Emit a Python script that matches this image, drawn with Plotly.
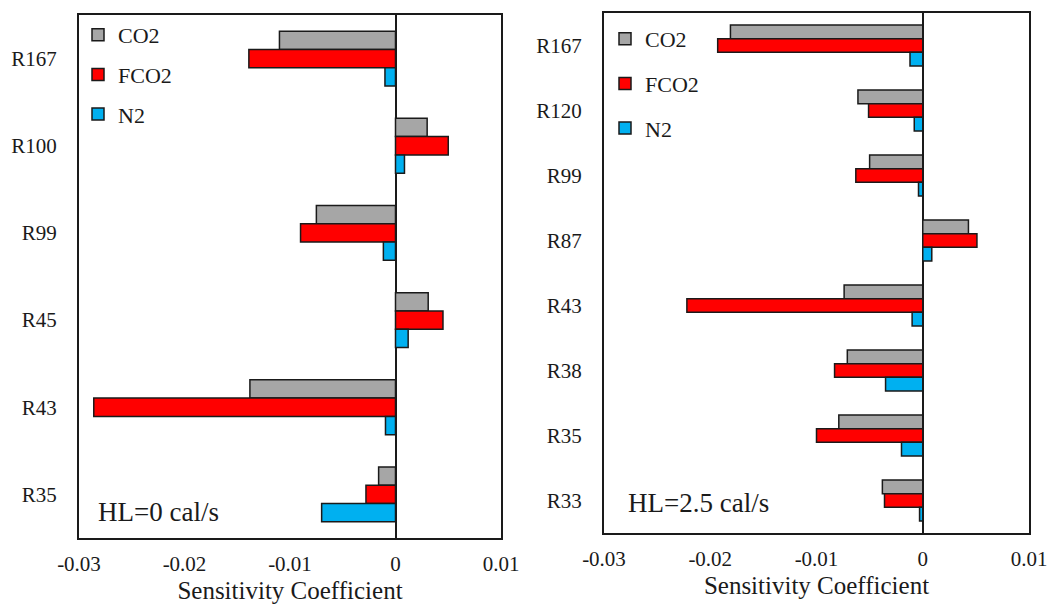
import plotly.graph_objects as go

series_names = ["CO2", "FCO2", "N2"]
series_colors = ["#A6A6A6", "#FF0000", "#00B0F0"]

left_categories = ["R167", "R100", "R99", "R45", "R43", "R35"]
left_co2 = [-0.0110, 0.0030, -0.0075, 0.0031, -0.0138, -0.0016]
left_fco2 = [-0.0139, 0.0050, -0.0090, 0.0045, -0.0286, -0.0028]
left_n2 = [-0.0010, 0.00085, -0.00115, 0.0012, -0.00095, -0.0070]

right_categories = ["R167", "R120", "R99", "R87", "R43", "R38", "R35", "R33"]
right_co2 = [-0.0181, -0.0061, -0.0050, 0.0043, -0.0074, -0.0071, -0.0079, -0.0038]
right_fco2 = [-0.0193, -0.0051, -0.0063, 0.0051, -0.0222, -0.0083, -0.0100, -0.0036]
right_n2 = [-0.0012, -0.0008, -0.0004, 0.00085, -0.0010, -0.0035, -0.0020, -0.0003]

x_tickvals = [-0.03, -0.02, -0.01, 0, 0.01]
x_ticktext = ["-0.03", "-0.02", "-0.01", "0", "0.01"]

FONT = "Liberation Serif"
INK = "#1a1a1a"
W, H = 1048, 605

fig = go.Figure()

for name, col, vals in zip(series_names, series_colors, [left_co2, left_fco2, left_n2]):
    fig.add_trace(go.Bar(
        x=vals, y=left_categories, orientation="h", name=name,
        marker=dict(color=col, line=dict(color=INK, width=1.5)),
        xaxis="x", yaxis="y", legend="legend", legendgroup="L" + name,
    ))

for name, col, vals in zip(series_names, series_colors, [right_co2, right_fco2, right_n2]):
    fig.add_trace(go.Bar(
        x=vals, y=right_categories, orientation="h", name=name,
        marker=dict(color=col, line=dict(color=INK, width=1.5)),
        xaxis="x2", yaxis="y2", legend="legend2", legendgroup="R" + name,
    ))

def px_x(p):
    return p / W

def px_y(p):
    return 1 - p / H

xcommon = dict(
    range=[-0.0300001, 0.0100001], tickvals=x_tickvals, ticktext=x_ticktext,
    showgrid=False, zeroline=True, zerolinecolor=INK, zerolinewidth=1.5,
    showline=True, mirror=True, linecolor=INK, linewidth=2,
    ticks="", ticklabelstandoff=6, automargin=False, ticklabeloverflow="allow",
    tickfont=dict(family=FONT, size=21, color=INK),
    title=dict(text="Sensitivity Coefficient", font=dict(family=FONT, size=25, color=INK), standoff=6),
)
ycommon = dict(
    type="category", showgrid=False, zeroline=False,
    showline=True, mirror=True, linecolor=INK, linewidth=2,
    ticks="", ticklabelstandoff=16, automargin=False,
    tickfont=dict(family=FONT, size=21, color=INK),
)

legcommon = dict(
    font=dict(family=FONT, size=22, color=INK),
    bgcolor="rgba(0,0,0,0)", xanchor="left", yanchor="top",
    traceorder="grouped", itemclick=False,
)

fig.update_layout(
    width=W, height=H,
    margin=dict(l=0, r=0, t=0, b=0, autoexpand=False),
    paper_bgcolor="white", plot_bgcolor="white",
    barmode="group", bargap=0.37, bargroupgap=0,
    xaxis=dict(domain=[px_x(79), px_x(501)], anchor="y", **xcommon),
    yaxis=dict(domain=[px_y(538), px_y(15)], anchor="x",
               range=[len(left_categories) - 0.5, -0.5], **ycommon),
    xaxis2=dict(domain=[px_x(604), px_x(1029)], anchor="y2", **xcommon),
    yaxis2=dict(domain=[px_y(533), px_y(13)], anchor="x2",
                range=[len(right_categories) - 0.5, -0.5], **ycommon),
    legend=dict(x=px_x(78), y=px_y(14), tracegroupgap=8, **legcommon),
    legend2=dict(x=px_x(605), y=px_y(18), tracegroupgap=13, **legcommon),
    showlegend=True,
    annotations=[
        dict(text="HL=0 cal/s", xref="paper", yref="paper", x=px_x(96), y=px_y(512),
             xanchor="left", yanchor="middle", showarrow=False,
             font=dict(family=FONT, size=27, color=INK)),
        dict(text="HL=2.5 cal/s", xref="paper", yref="paper", x=px_x(626), y=px_y(503),
             xanchor="left", yanchor="middle", showarrow=False,
             font=dict(family=FONT, size=27, color=INK)),
    ],
)

fig.write_html("out.html")
